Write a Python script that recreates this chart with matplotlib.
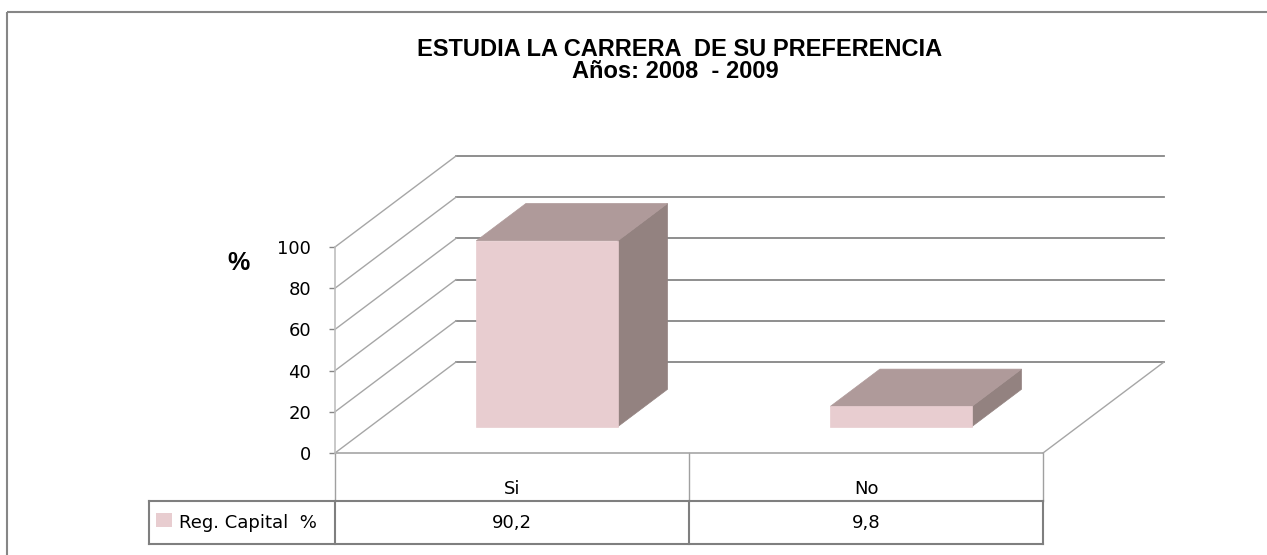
import matplotlib
matplotlib.use('Agg')
import matplotlib.pyplot as plt
from matplotlib.patches import Polygon, Rectangle
from matplotlib import transforms

categorias = ['Si', 'No']
valores = [90.2, 9.8]
etiquetas_valor = ['90,2', '9,8']
yticks = [0, 20, 40, 60, 80, 100]
serie = 'Reg. Capital  %'
titulo1 = 'ESTUDIA LA CARRERA  DE SU PREFERENCIA'
titulo2 = 'Años: 2008  - 2009'

frente = '#E8CDD0'
arriba = '#AF9A9A'
lado = '#938280'
gris = '#868686'

W, H = 1267, 555
fig = plt.figure(figsize=(W / 100, H / 100), dpi=100)

# capa en pixeles para marco, titulo y tabla
bg = fig.add_axes([0, 0, 1, 1])
bg.set_xlim(0, W)
bg.set_ylim(H, 0)
bg.axis('off')

# ejes del plano frontal (categoria, valor)
ax = fig.add_axes([335 / W, (H - 453) / H, 708 / W, 206 / H])
ax.set_xlim(0, len(categorias))
ax.set_ylim(0, 100)
ax.patch.set_visible(False)

# desplazamiento oblicuo de la profundidad, en unidades de datos
DX, DY = 121 / 354, 91 / 2.06


def P(x, v, d):
    return (x + d * DX, v + d * DY)


n = len(categorias)
for t in yticks:
    a, b = P(0, t, 1), P(n, t, 1)
    ax.plot([a[0], b[0]], [a[1], b[1]], color=gris, lw=1.3, clip_on=False, zorder=1)
    a, b = P(0, t, 0), P(0, t, 1)
    ax.plot([a[0], b[0]], [a[1], b[1]], color='#A6A6A6', lw=1.0, clip_on=False, zorder=1)
a, b = P(n, 0, 0), P(n, 0, 1)
ax.plot([a[0], b[0]], [a[1], b[1]], color='#A6A6A6', lw=1.0, clip_on=False, zorder=1)
ax.plot([0, n], [0, 0], color='#A6A6A6', lw=1.2, clip_on=False, zorder=1)

# barras 3D
d0, d1 = 0.29, 0.70
ancho = 0.4
for i, v in enumerate(valores):
    x0, x1 = i + 0.5 - ancho / 2, i + 0.5 + ancho / 2
    caras = [
        ([P(x1, 0, d0), P(x1, 0, d1), P(x1, v, d1), P(x1, v, d0)], lado),
        ([P(x0, v, d0), P(x1, v, d0), P(x1, v, d1), P(x0, v, d1)], arriba),
        ([P(x0, 0, d0), P(x1, 0, d0), P(x1, v, d0), P(x0, v, d0)], frente),
    ]
    for pts, c in caras:
        ax.add_patch(Polygon(pts, closed=True, fc=c, ec=c, lw=0.5, clip_on=False, zorder=3))

ax.set_xticks([])
ax.set_yticks(yticks)
ax.tick_params(axis='y', length=4.3, width=1, color=gris, pad=13, labelsize=13)
for s in ['top', 'right', 'bottom']:
    ax.spines[s].set_visible(False)
ax.spines['left'].set_color('#BFBFBF')
ax.spines['left'].set_linewidth(1.2)

# tabla de datos
tr = transforms.blended_transform_factory(ax.transData, bg.transData)
izq = -(335 - 149) / 354
for i in range(n + 1):
    bg.plot([i, i], [453, 501], color='#A0A0A0', lw=1.0, transform=tr)
for y in [501, 544]:
    bg.plot([izq, n], [y, y], color='#7F7F7F', lw=1.5, transform=tr)
for x in [izq] + list(range(n + 1)):
    bg.plot([x, x], [501, 544], color='#7F7F7F', lw=1.5, transform=tr)
for i, (c, e) in enumerate(zip(categorias, etiquetas_valor)):
    bg.text(i + 0.5, 489, c, ha='center', va='center', fontsize=13, transform=tr)
    bg.text(i + 0.5, 523, e, ha='center', va='center', fontsize=13, transform=tr)
bg.add_patch(Rectangle((156, 513), 16, 14, fc=frente, ec='none'))
bg.text(179, 523, serie, ha='left', va='center', fontsize=13)

bg.text(238, 263, '%', ha='center', va='center', fontsize=18, fontweight='bold',
        family='Liberation Sans')
bg.text(680, 56, titulo1, ha='center', va='baseline', fontsize=17, fontweight='bold',
        family='Liberation Sans')
bg.text(675, 78, titulo2, ha='center', va='baseline', fontsize=17, fontweight='bold',
        family='Liberation Sans')

bg.add_patch(Rectangle((7, 12), 1300, 600, fill=False, ec=gris, lw=1.5))

fig.savefig('out.png', dpi=100)
